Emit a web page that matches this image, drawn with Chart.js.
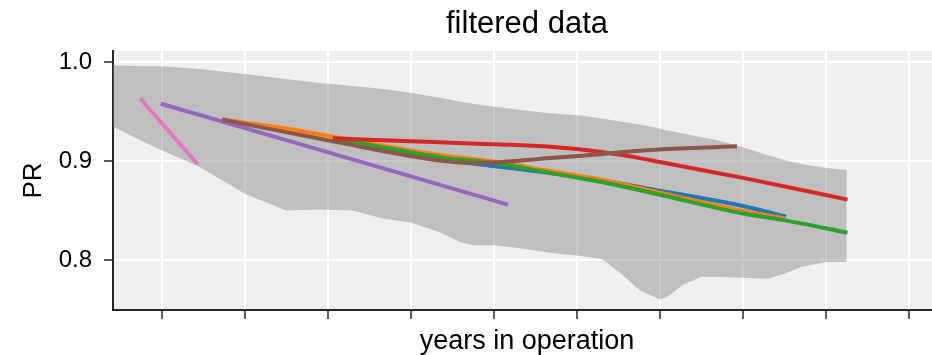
<!DOCTYPE html>
<html>
<head>
<meta charset="utf-8">
<title>filtered data</title>
<script src="https://cdn.jsdelivr.net/npm/chart.js@4.4.1/dist/chart.umd.min.js"></script>
<style>
  html, body { margin: 0; padding: 0; background: #fff; overflow: hidden; }
  #wrap { width: 960px; height: 355px; }
</style>
</head>
<body>
<div id="wrap"><canvas id="myChart" width="960" height="355"></canvas></div>
<script>
// ticks (years), no labels shown on x
const xTicks = [1, 2, 3, 4, 5, 6, 7, 8, 9, 10]
const yTicks = [0.8, 0.9, 1.0]

// grey band (spread of all systems)
const bandX     = [0.41, 0.74, 1.0, 1.46, 2.0, 2.5, 2.9, 3.3, 3.66, 4.0, 4.35, 4.6, 4.75, 5.0, 5.3, 5.7, 6.05, 6.3, 6.52, 6.76, 7.0, 7.08, 7.28, 7.5, 7.7, 8.0, 8.3, 8.5, 8.7, 9.0, 9.25]
const bandUpper = [0.997, 0.996, 0.996, 0.993, 0.988, 0.983, 0.979, 0.976, 0.973, 0.969, 0.964, 0.960, 0.958, 0.955, 0.952, 0.948, 0.946, 0.943, 0.940, 0.937, 0.933, 0.931, 0.928, 0.924, 0.921, 0.914, 0.906, 0.901, 0.897, 0.893, 0.891]
const bandLower = [0.935, 0.921, 0.911, 0.894, 0.867, 0.850, 0.851, 0.850, 0.842, 0.838, 0.828, 0.818, 0.815, 0.815, 0.812, 0.807, 0.804, 0.801, 0.787, 0.769, 0.760, 0.762, 0.775, 0.783, 0.783, 0.782, 0.781, 0.786, 0.793, 0.798, 0.798]

// single systems
const blueX   = [3.06, 4.35, 4.99, 5.68, 6.28, 7.0, 8.0, 8.52]
const blueY   = [0.923, 0.902, 0.895, 0.888, 0.881, 0.870, 0.8546, 0.8438]
const orangeX = [1.73, 2.5, 3.06, 4.35, 4.99, 5.68, 6.28, 7.0, 8.0, 8.51]
const orangeY = [0.942, 0.933, 0.9247, 0.9062, 0.8996, 0.890, 0.8814, 0.868, 0.8495, 0.842]
const greenX  = [3.06, 4.35, 4.99, 5.68, 6.28, 7.0, 8.0, 8.51, 9.26]
const greenY  = [0.923, 0.904, 0.898, 0.888, 0.879, 0.866, 0.847, 0.840, 0.8276]
const redX    = [3.06, 4.35, 4.99, 5.68, 6.28, 6.76, 7.0, 8.0, 9.26]
const redY    = [0.923, 0.919, 0.917, 0.9145, 0.9095, 0.903, 0.899, 0.883, 0.861]
const purpleX = [0.99, 5.17]
const purpleY = [0.958, 0.856]
const brownX  = [1.73, 3.06, 4.4, 4.75, 5.1, 5.68, 6.28, 6.76, 7.93]
const brownY  = [0.942, 0.920, 0.900, 0.898, 0.899, 0.903, 0.907, 0.9105, 0.915]
const pinkX   = [0.74, 1.43]
const pinkY   = [0.9635, 0.897]

let pts = (xs, ys) => xs.map((x, i) => ({ x: x, y: ys[i] }))

let line = (xs, ys, color, order) => ({
  data: pts(xs, ys),
  borderColor: color,
  borderWidth: 4,
  pointRadius: 0,
  fill: false,
  cubicInterpolationMode: 'monotone',
  order: order
})

Chart.defaults.font.family = '"Liberation Sans", Arial, sans-serif'
Chart.defaults.color = '#262626'

const bgPlugin = {
  id: 'bg',
  beforeDraw: (chart) => {
    const { ctx, chartArea } = chart
    ctx.save()
    ctx.fillStyle = '#ffffff'
    ctx.fillRect(0, 0, chart.width, chart.height)
    ctx.fillStyle = '#efefef'
    ctx.fillRect(chartArea.left, chartArea.top, chartArea.right - chartArea.left, chartArea.bottom - chartArea.top)
    ctx.restore()
  }
}

const ctx = document.getElementById('myChart')

new Chart(ctx, {
  type: 'line',
  data: {
    datasets: [
      {
        data: pts(bandX, bandUpper),
        borderWidth: 0,
        pointRadius: 0,
        backgroundColor: 'rgba(128,128,128,0.43)',
        fill: '+1',
        order: 10
      },
      {
        data: pts(bandX, bandLower),
        borderWidth: 0,
        pointRadius: 0,
        fill: false,
        order: 10
      },
      line(blueX, blueY, '#1f77b4', 7),
      line(orangeX, orangeY, '#ff7f0e', 6),
      line(greenX, greenY, '#2ca02c', 5),
      line(redX, redY, '#d62728', 4),
      line(purpleX, purpleY, '#9467bd', 3),
      line(brownX, brownY, '#8c564b', 2),
      line(pinkX, pinkY, '#e377c2', 1)
    ]
  },
  options: {
    responsive: false,
    animation: false,
    devicePixelRatio: 1,
    layout: { padding: { left: 0, right: 19, top: 0, bottom: 0 } },
    plugins: {
      legend: { display: false },
      tooltip: { enabled: false },
      title: {
        display: true,
        text: 'filtered data',
        fullSize: false,
        color: '#000',
        font: { size: 31, weight: 'normal', lineHeight: 1.2 },
        padding: { top: 5.7, bottom: 8.1 }
      }
    },
    scales: {
      x: {
        type: 'linear',
        min: 0.4135,
        max: 10.386,
        afterBuildTicks: (scale) => { scale.ticks = xTicks.map(v => ({ value: v })) },
        afterFit: (scale) => { scale.height = 45 },
        ticks: { display: false },
        grid: { color: '#ffffff', lineWidth: 2, tickColor: '#262626', tickWidth: 1.5, tickLength: 9 },
        border: { display: true, color: '#262626', width: 2 },
        title: {
          display: true,
          text: 'years in operation',
          color: '#000',
          font: { size: 27, lineHeight: 1 },
          padding: { top: 0, bottom: 0 }
        }
      },
      y: {
        type: 'linear',
        min: 0.7494,
        max: 1.0113,
        afterBuildTicks: (scale) => { scale.ticks = yTicks.map(v => ({ value: v })) },
        afterFit: (scale) => { scale.width = 113 },
        ticks: {
          color: '#000',
          font: { size: 24 },
          padding: 12,
          callback: (v) => Number(v).toFixed(1)
        },
        grid: { color: '#ffffff', lineWidth: 2, tickColor: '#262626', tickWidth: 1.5, tickLength: 9 },
        border: { display: true, color: '#262626', width: 2 },
        title: {
          display: true,
          text: 'PR',
          color: '#000',
          font: { size: 26, lineHeight: 1 },
          padding: { top: 21, bottom: 0 }
        }
      }
    }
  },
  plugins: [bgPlugin]
})
</script>
</body>
</html>
